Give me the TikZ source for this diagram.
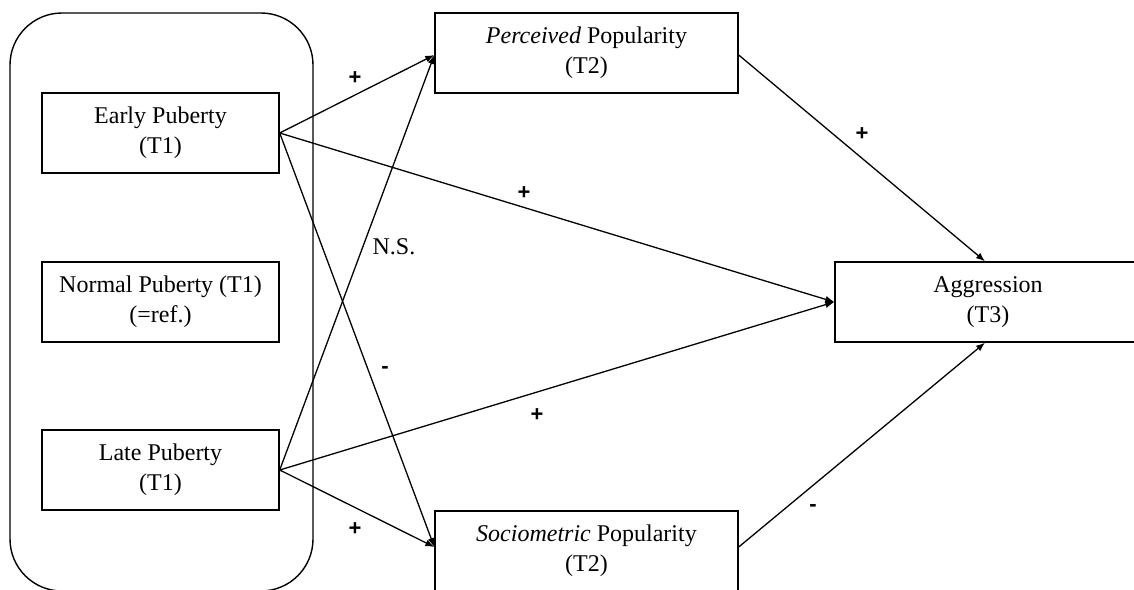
\documentclass[tikz,border=0pt]{standalone}
\usepackage{fontspec}
\setmainfont{Liberation Serif}
\newfontfamily\signfont{Liberation Sans}
\usetikzlibrary{arrows.meta}
\begin{document}
\begin{tikzpicture}[x=1pt,y=-1pt,
  every node/.style={font=\fontsize{24}{30}\selectfont},
  box/.style={draw, line width=1.4pt, align=center, inner sep=0pt, minimum height=80pt},
  lbox/.style={box, minimum width=237pt},
  rbox/.style={box, minimum width=303pt},
  path/.style={line width=1.3pt, -{Latex[length=9pt,width=7pt]}},
  sign/.style={font=\signfont\bfseries\fontsize{22}{26}\selectfont, inner sep=0pt}]
\clip (0,0) rectangle (1134,589);
\fill[white] (0,0) rectangle (1134,589);
\node[draw, line width=1.4pt, rounded corners=52pt, minimum width=303pt, minimum height=578pt, inner sep=0pt] (group) at (161.5,302) {};
\node[lbox] (early) at (160.5,133) {Early Puberty\\(T1)};
\node[lbox] (normal) at (160.5,302) {Normal Puberty (T1)\\(=ref.)};
\node[lbox] (late) at (160.5,470) {Late Puberty\\(T1)};
\node[rbox] (perc) at (586.5,53) {\textit{Perceived} Popularity\\(T2)};
\node[rbox] (soc) at (586.5,551) {\textit{Sociometric} Popularity\\(T2)};
\node[box, minimum width=306pt] (agg) at (988,302) {Aggression\\(T3)};
\draw[path] (early.east) -- ([yshift=-2pt]perc.west);
\draw[path] (late.east) -- ([yshift=-2pt]perc.west);
\draw[path] (early.east) -- ([yshift=4pt]soc.west);
\draw[path] (late.east) -- ([yshift=4pt]soc.west);
\draw[path] (early.east) -- (agg.west);
\draw[path] (late.east) -- (agg.west);
\draw[path] ([yshift=-2pt]perc.east) -- ([xshift=-3pt]agg.north);
\draw[path] ([yshift=4pt]soc.east) -- ([xshift=-3pt]agg.south);
\node[sign] (s1) at (355,78) {+};
\node[sign] (s2) at (524,193) {+};
\node[inner sep=0pt] (ns) at (394,247) {N.S.};
\node[sign] (s3) at (385,370) {-};
\node[sign] (s4) at (537,415) {+};
\node[sign] (s5) at (355,529) {+};
\node[sign] (s6) at (862,134) {+};
\node[sign] (s7) at (813,508) {-};
\end{tikzpicture}
\end{document}
